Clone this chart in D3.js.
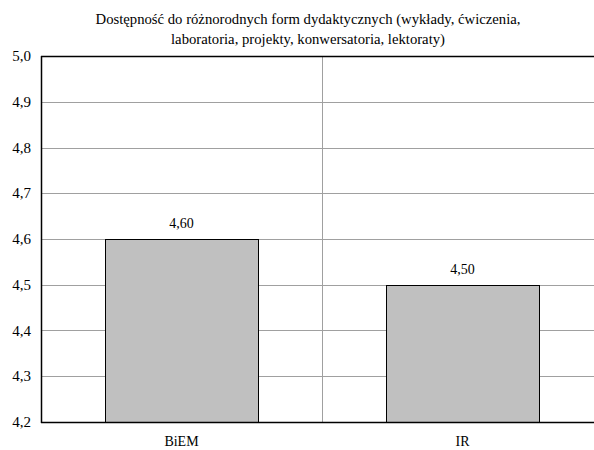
<!DOCTYPE html>
<html><head><meta charset="utf-8">
<script src="https://cdn.jsdelivr.net/npm/d3@7"></script>
<style>body{margin:0;background:#fff}svg{display:block}text{font-family:"Liberation Serif","Times New Roman",serif;fill:#000}</style>
</head><body>
<script>
const categories = ["BiEM", "IR"];
const values = [4.60, 4.50];
const yTicks = [4.2, 4.3, 4.4, 4.5, 4.6, 4.7, 4.8, 4.9, 5.0];
const titleLines = ["Dostępność do różnorodnych form dydaktycznych (wykłady, ćwiczenia,", "laboratoria, projekty, konwersatoria, lektoraty)"];

const W = 594, H = 450;
const m = {l: 41, t: 56, b: 422, r: 603};
const svg = d3.select("body").append("svg").attr("width", W).attr("height", H);
const x = d3.scaleBand().domain(categories).range([m.l, m.r]).paddingInner(0).paddingOuter(0);
const y = d3.scaleLinear().domain([4.2, 5.0]).range([m.b, m.t]);
const fmt1 = d => d.toFixed(1).replace(".", ",");
const fmt2 = d => d.toFixed(2).replace(".", ",");

// gridlines
svg.append("g").selectAll("line").data(yTicks.slice(1, -1)).join("line")
  .attr("x1", m.l).attr("x2", m.r).attr("y1", d => Math.round(y(d)) + 0.5).attr("y2", d => Math.round(y(d)) + 0.5)
  .attr("stroke", "#a0a0a0").attr("stroke-width", 1);
// category separators
svg.append("g").selectAll("line").data(categories.slice(1)).join("line")
  .attr("x1", d => Math.round(x(d)) + 0.5).attr("x2", d => Math.round(x(d)) + 0.5)
  .attr("y1", m.t).attr("y2", m.b).attr("stroke", "#a0a0a0");

// bars
const bw = 153;
svg.append("g").selectAll("rect").data(values).join("rect")
  .attr("x", (d, i) => Math.round(x(categories[i]) + x.bandwidth() / 2 - bw / 2) + 0.5)
  .attr("y", d => Math.round(y(d)) + 0.5)
  .attr("width", bw).attr("height", d => Math.round(y(4.2)) - Math.round(y(d)))
  .attr("fill", "#c0c0c0").attr("stroke", "#000").attr("stroke-width", 1);

// value labels
svg.append("g").selectAll("text").data(values).join("text")
  .attr("x", (d, i) => x(categories[i]) + x.bandwidth() / 2)
  .attr("y", d => y(d) - 11).attr("text-anchor", "middle").attr("font-size", 14)
  .text(fmt2);

// frame: top, left, bottom
svg.append("line").attr("x1", m.l).attr("x2", m.r).attr("y1", m.t + 0.5).attr("y2", m.t + 0.5).attr("stroke", "#000").attr("stroke-width", 1.5);
svg.append("line").attr("x1", m.l).attr("x2", m.r).attr("y1", m.b + 0.5).attr("y2", m.b + 0.5).attr("stroke", "#000").attr("stroke-width", 1.5);
svg.append("line").attr("x1", m.l + 0.5).attr("x2", m.l + 0.5).attr("y1", m.t).attr("y2", m.b + 1).attr("stroke", "#000").attr("stroke-width", 1.5);

// y tick labels
svg.append("g").selectAll("text").data(yTicks).join("text")
  .attr("x", 31).attr("y", d => y(d) + 5).attr("text-anchor", "end").attr("font-size", 15)
  .text(fmt1);

// category labels
svg.append("g").selectAll("text").data(categories).join("text")
  .attr("x", d => x(d) + x.bandwidth() / 2).attr("y", 446).attr("text-anchor", "middle").attr("font-size", 14)
  .text(d => d);

// title
svg.append("g").selectAll("text").data(titleLines).join("text")
  .attr("x", 308).attr("y", (d, i) => 24 + i * 20).attr("text-anchor", "middle").attr("font-size", 14.7)
  .text(d => d);
</script>
</body></html>
